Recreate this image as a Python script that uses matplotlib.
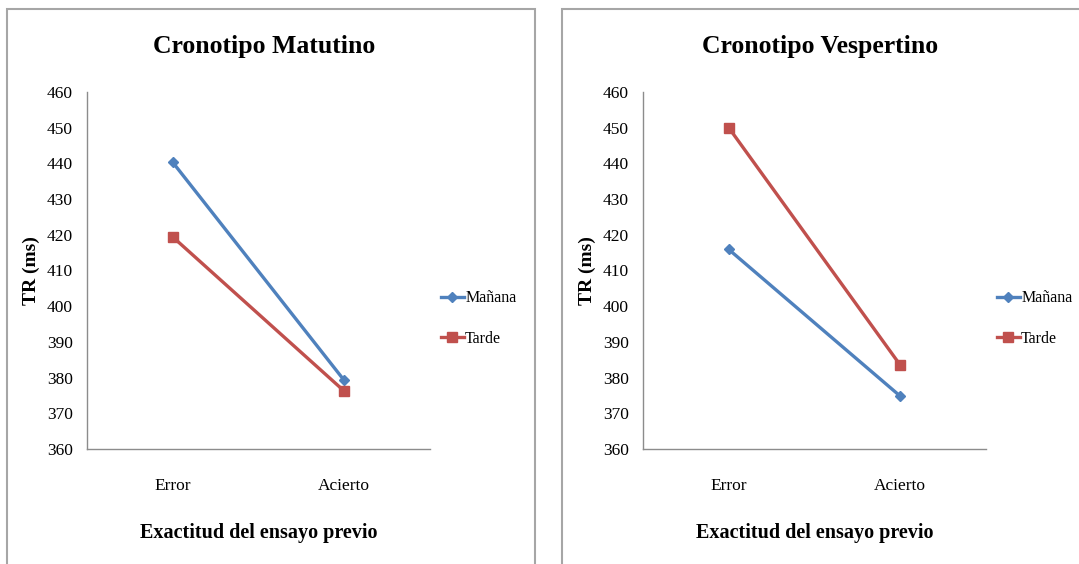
import matplotlib.pyplot as plt
from matplotlib.patches import Rectangle

categories = ['Error', 'Acierto']
series = ['Mañana', 'Tarde']
matutino = {'Mañana': [440.3, 379.2], 'Tarde': [419.4, 376.2]}
vespertino = {'Mañana': [415.9, 374.8], 'Tarde': [450.0, 383.5]}
titles = ['Cronotipo Matutino', 'Cronotipo Vespertino']
yticks = [360, 370, 380, 390, 400, 410, 420, 430, 440, 450, 460]

colors = {'Mañana': '#4F81BD', 'Tarde': '#C0504D'}
markers = {'Mañana': 'D', 'Tarde': 's'}
msizes = {'Mañana': 5.5, 'Tarde': 7.5}

plt.rcParams['font.family'] = ['Liberation Serif', 'DejaVu Serif']

W, H = 1079, 564
fig = plt.figure(figsize=(W / 100, H / 100), dpi=100)

# panel frames (x0, x1) and axes left/right, in pixels
panels = [(7, 535, 87, 430), (562, 1090, 643, 986)]

for i, data in enumerate([matutino, vespertino]):
    px0, px1, ax0, ax1 = panels[i]
    fig.patches.append(Rectangle((px0 / W, -0.1), (px1 - px0) / W, 1 - 9.5 / H + 0.1,
                                 transform=fig.transFigure, fill=False,
                                 edgecolor='#A6A6A6', linewidth=1.5))
    ax = fig.add_axes([ax0 / W, 1 - 449 / H, (ax1 - ax0) / W, (449 - 92) / H])
    x = range(len(categories))
    for s in series:
        ax.plot(x, data[s], color=colors[s], linewidth=2.4, marker=markers[s],
                markersize=msizes[s], label=s)
    ax.set_xlim(-0.5, 1.5)
    ax.set_ylim(360, 460)
    ax.set_yticks(yticks)
    ax.set_xticks(list(x))
    ax.set_xticklabels(categories)
    ax.tick_params(length=0, labelsize=12.5, pad=10)
    ax.tick_params(axis='x', pad=21)
    for side in ['top', 'right']:
        ax.spines[side].set_visible(False)
    for side in ['left', 'bottom']:
        ax.spines[side].set_color('#8C8C8C')
        ax.spines[side].set_linewidth(1.0)
    ax.set_ylabel('TR (ms)', fontsize=14, fontweight='bold', labelpad=5)
    ax.set_xlabel('Exactitud del ensayo previo', fontsize=14.5, fontweight='bold', labelpad=21)
    fig.text((ax0 + ax1) / 2 / W + 0.005, 1 - 47 / H, titles[i], ha='center', va='center',
             fontsize=18.5, fontweight='bold')
    ax.legend(loc='center left', bbox_to_anchor=(1.0, 0.365), frameon=False,
              fontsize=11.5, handlelength=1.4, handletextpad=0.1, labelspacing=1.55,
              borderaxespad=0.3)

fig.savefig('out.png', dpi=100)
